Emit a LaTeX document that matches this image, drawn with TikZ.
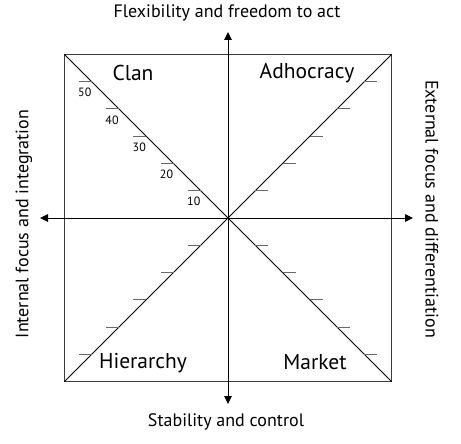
\documentclass[tikz,border=0pt]{standalone}
\usepackage{fontspec}
\setmainfont{PT Sans}
\usetikzlibrary{arrows.meta, positioning, calc}
\definecolor{frame}{RGB}{60,60,60}
\definecolor{tickc}{RGB}{105,105,105}
\tikzset{
  quad/.style  ={font=\fontsize{21.5}{25}\selectfont, inner sep=0pt},
  axlbl/.style ={font=\fontsize{18}{21}\selectfont, inner sep=0pt},
  num/.style   ={font=\fontsize{12}{14}\selectfont, inner sep=0pt},
  ar/.style    ={{Triangle[length=8pt,width=7.5pt]}-{Triangle[length=8pt,width=7.5pt]}, draw=black, line width=0.95pt},
  diag/.style  ={draw=black, line width=0.8pt},
  box/.style   ={draw=frame, line width=1.4pt},
  tk/.style    ={draw=tickc, line width=1pt},
}

\begin{document}
\begin{tikzpicture}[x=1pt,y=-1pt]
\useasboundingbox (0,0) rectangle (461,444);
% frame and diagonals
\coordinate (O)  at (228,218);
\coordinate (nw) at (64.5,54.5);
\coordinate (ne) at (391.5,54.5);
\coordinate (sw) at (64.5,381.5);
\coordinate (se) at (391.5,381.5);
\draw[box] (nw) rectangle (se);
\draw[diag] (nw)--(se);
\draw[diag] (sw)--(ne);
% axes
\coordinate (top) at (228,32);
\coordinate (bot) at (228,404);
\coordinate (lft) at (40,218);
\coordinate (rgt) at (413,218);
\draw[ar] (bot)--(top);
\draw[ar] (lft)--(rgt);
% ticks on the diagonals
\foreach \k in {1,...,5}{
  \pgfmathsetmacro{\d}{\k*27.25}
  \coordinate (c\k) at ($(O)+(-\d,-\d)$);
  \coordinate (a\k) at ($(O)+(\d,-\d)$);
  \coordinate (h\k) at ($(O)+(-\d,\d)$);
  \coordinate (m\k) at ($(O)+(\d,\d)$);
  \draw[tk] (c\k)--++(-13,0);
  \draw[tk] (a\k)--++(13,0);
  \draw[tk] (h\k)--++(-13,0);
  \draw[tk] (m\k)--++(13,0);
  \pgfmathtruncatemacro{\v}{\k*10}
  \node[num] (n\k) at ($(c\k)+(-7,11)$) {\v};
}
% quadrant names
\node[quad] (clan) at (133,73)  {Clan};
\node[quad] (adho) at (307,73)  {Adhocracy};
\node[quad] (hier) at (143,363) {Hierarchy};
\node[quad] (mark) at (315,362) {Market};
% axis names
\node[axlbl] (flex) at (227,13)  {Flexibility and freedom to act};
\node[axlbl] (stab) at (226,422) {Stability and control};
\node[axlbl, rotate=90]  (intl) at (24,224)  {Internal focus and integration};
\node[axlbl, rotate=-90] (extl) at (432,209) {External focus and differentiation};
\end{tikzpicture}
\end{document}
